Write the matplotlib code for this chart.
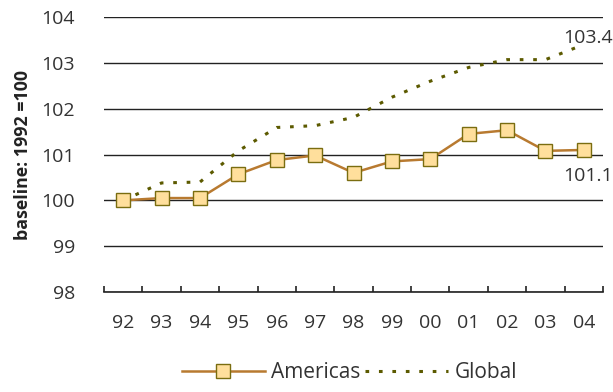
import matplotlib
matplotlib.use("Agg")
import matplotlib.pyplot as plt
from matplotlib.lines import Line2D

plt.rcParams['font.family'] = ['Open Sans', 'DejaVu Sans']

# data
years = ["92", "93", "94", "95", "96", "97", "98", "99", "00", "01", "02", "03", "04"]
americas = [100.0, 100.05, 100.05, 100.57, 100.88, 100.98, 100.6, 100.85, 100.9, 101.45, 101.53, 101.08, 101.1]
global_ = [100.0, 100.38, 100.4, 101.08, 101.59, 101.63, 101.81, 102.25, 102.6, 102.9, 103.07, 103.07, 103.4]

LINE_COL = "#b87a30"
FACE_COL = "#ffdf9c"
EDGE_COL = "#7a6d10"
GLOBAL_COL = "#5c5a00"
TEXT_COL = "#333333"

fig = plt.figure(figsize=(6.13, 3.92), dpi=100)
ax = fig.add_axes([0.1697, 0.255, 0.8140, 0.7016])

x = list(range(len(years)))
ax.plot(x, global_, color=GLOBAL_COL, lw=2.2, linestyle=(0, (1.2, 3.2)), zorder=2)
ax.plot(x, americas, color=LINE_COL, lw=1.8, marker="s", markersize=10,
        markerfacecolor=FACE_COL, markeredgecolor=EDGE_COL, markeredgewidth=1.0, zorder=3)

ax.set_xlim(-0.5, len(years) - 0.5)
ax.set_ylim(98, 104)
ax.set_yticks(range(98, 105))
ax.yaxis.grid(True, color="#222222", lw=1.0)
ax.set_axisbelow(True)
for s in ["left", "right", "top"]:
    ax.spines[s].set_visible(False)
ax.spines["bottom"].set_color("#222222")
ax.spines["bottom"].set_linewidth(1.2)

ax.set_xticks([i - 0.5 for i in range(len(years) + 1)])
ax.set_xticklabels([])
ax.set_xticks(x, minor=True)
ax.set_xticklabels(years, minor=True)
ax.tick_params(axis="x", which="major", direction="in", length=4, width=1.2, color="#222222")
ax.tick_params(axis="x", which="minor", length=0, pad=16, labelsize=14, labelcolor=TEXT_COL)
ax.tick_params(axis="y", length=0, pad=21, labelsize=14, labelcolor=TEXT_COL)

ax.set_ylabel("baseline: 1992 =100", fontsize=12.8, fontweight="bold", color="#222222", labelpad=7)

ax.annotate("103.4", xy=(x[-1], global_[-1]), xytext=(29, 7), textcoords="offset pixels",
            ha="right", va="center", fontsize=14, color=TEXT_COL, annotation_clip=False)
ax.annotate("101.1", xy=(x[-1], americas[-1]), xytext=(29, -26), textcoords="offset pixels",
            ha="right", va="center", fontsize=14, color=TEXT_COL, annotation_clip=False)

handles = [
    Line2D([], [], color=LINE_COL, lw=1.8, marker="s", markersize=10,
           markerfacecolor=FACE_COL, markeredgecolor=EDGE_COL),
    Line2D([], [], color=GLOBAL_COL, lw=2.2, linestyle=(0, (1.2, 3.2))),
]
fig.legend(handles, ["Americas", "Global"], loc="lower center", bbox_to_anchor=(0.57, -0.025),
           ncol=2, frameon=False, fontsize=15, handlelength=4.0, handletextpad=0.3,
           columnspacing=0.2, labelcolor=TEXT_COL)

fig.savefig("out.png", dpi=100)
